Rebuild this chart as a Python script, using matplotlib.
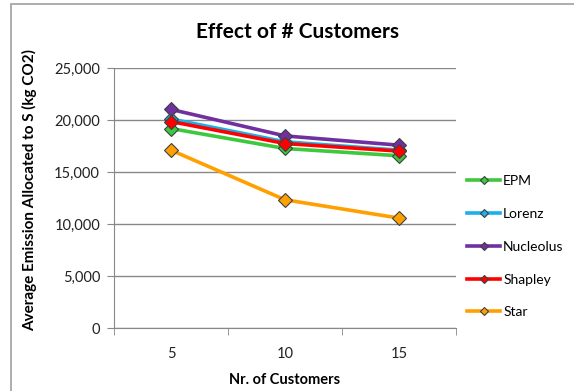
import matplotlib.pyplot as plt
from matplotlib.patches import Rectangle

plt.rcParams['font.family'] = ['Lato', 'DejaVu Sans']

customers = ['5', '10', '15']
epm = [19180, 17260, 16560]
lorenz = [20100, 17900, 17100]
nucleolus = [21020, 18470, 17580]
shapley = [19850, 17740, 17010]
star = [17100, 12330, 10570]

series = [
    ('EPM', epm, '#3ec83e'),
    ('Lorenz', lorenz, '#1ab0e8'),
    ('Nucleolus', nucleolus, '#7030a0'),
    ('Shapley', shapley, '#ff0000'),
    ('Star', star, '#ffa000'),
]

fig = plt.figure(figsize=(5.74, 3.91), dpi=100)
ax = fig.add_axes([114 / 574, 1 - 328 / 391, 342 / 574, 260 / 391])

x = list(range(len(customers)))
handles = []
for name, vals, color in series:
    h, = ax.plot(x, vals, color=color, lw=2.6, marker='D', ms=7.5,
                 mfc=color, mec='#404040', mew=0.8, label=name, zorder=3)
    handles.append(h)

ax.set_xlim(-0.5, len(customers) - 0.5)
ax.set_ylim(0, 25000)
ax.set_yticks(range(0, 25001, 5000))
ax.set_yticklabels([f'{v:,}' for v in range(0, 25001, 5000)], fontsize=10.5, color='#222222')
ax.set_xticks(x)
ax.set_xticklabels(customers, fontsize=10.5, color='#222222')
ax.set_xticks([-0.5, 0.5, 1.5, 2.5], minor=True)
ax.tick_params(axis='x', which='major', length=0, pad=14)
ax.tick_params(axis='x', which='minor', length=5, direction='out', color='#888888')
ax.tick_params(axis='y', length=5, direction='out', color='#888888', pad=5)
ax.grid(axis='y', color='#888888', lw=1)
ax.set_axisbelow(True)
for s in ['top', 'right']:
    ax.spines[s].set_visible(False)
for s in ['left', 'bottom']:
    ax.spines[s].set_color('#888888')

ax.set_xlabel('Nr. of Customers', fontsize=10.5, fontweight='bold', labelpad=8)
ax.set_ylabel('Average Emission Allocated to S (kg CO2)', fontsize=11, fontweight='bold')
ax.yaxis.set_label_coords(-0.225, 0.53)
fig.text(297 / 574, 1 - 32 / 391, 'Effect of # Customers', fontsize=15, fontweight='bold',
         ha='center', va='center')

fig.legend(handles=handles, loc='upper left', bbox_to_anchor=(467 / 574, 1 - 175 / 391),
           frameon=False, fontsize=10, handlelength=2.4, labelspacing=1.5,
           handletextpad=0.2, borderaxespad=0, borderpad=0, markerscale=0.6)

fig.patches.append(Rectangle((11 / 574, -0.1), 1.2, 1 - 4 / 391 + 0.1, transform=fig.transFigure,
                             fill=False, edgecolor='#a0a0a0', lw=1.2))

fig.savefig('out.png', dpi=100)
